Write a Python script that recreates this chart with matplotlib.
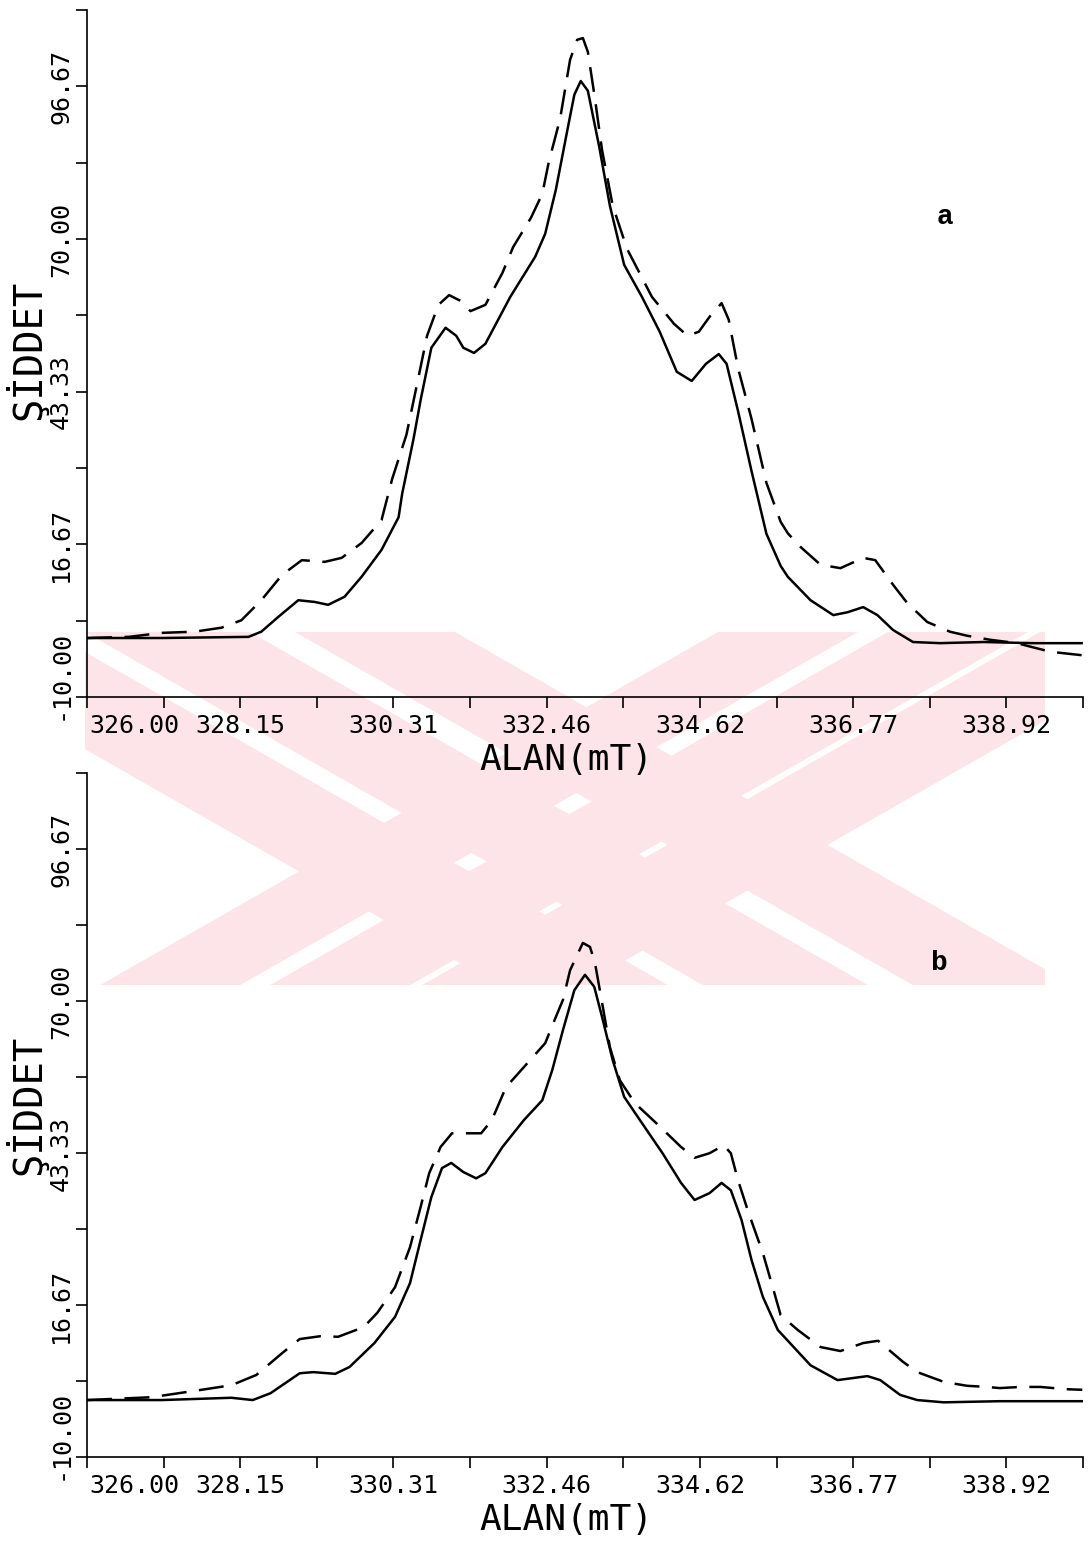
import matplotlib
matplotlib.use('Agg')
import matplotlib.pyplot as plt
from matplotlib.patches import Polygon, Rectangle

# field axis (mT) and intensity
xa_solid = [326.00, 327.05, 328.27, 328.45, 328.69, 328.97, 329.20, 329.39, 329.62, 329.86,
            330.14, 330.38, 330.43, 330.59, 330.69, 330.84, 331.04, 331.19, 331.29, 331.44,
            331.60, 331.95, 332.30, 332.44, 332.59, 332.75, 332.85, 332.94, 333.04, 333.20,
            333.35, 333.55, 333.80, 334.05, 334.29, 334.50, 334.70, 334.88, 334.99, 335.15,
            335.34, 335.55, 335.75, 335.85, 336.17, 336.49, 336.69, 336.91, 337.11, 337.33,
            337.61, 337.99, 338.60, 339.30, 339.98]
ya_solid = [0.3, 0.3, 0.5, 1.4, 4.0, 6.9, 6.6, 6.1, 7.5, 11.0,
            15.7, 21.4, 25.5, 35.1, 41.9, 51.0, 54.5, 53.1, 51.0, 50.1,
            51.7, 59.9, 66.9, 70.9, 78.6, 88.9, 95.2, 97.6, 95.9, 86.1,
            75.8, 65.5, 59.9, 53.8, 46.8, 45.2, 48.2, 49.9, 48.2, 40.0,
            29.5, 18.5, 12.9, 11.0, 6.9, 4.3, 4.8, 5.7, 4.3, 1.7,
            -0.4, -0.6, -0.4, -0.6, -0.6]

xa_dash = [326.00, 326.59, 327.05, 327.51, 327.89, 328.17, 328.45, 328.74, 329.02, 329.34,
           329.58, 329.86, 330.14, 330.29, 330.49, 330.64, 330.78, 330.94, 331.09, 331.25,
           331.39, 331.60, 331.84, 331.99, 332.24, 332.40, 332.49, 332.65, 332.79, 332.89,
           332.97, 333.04, 333.14, 333.24, 333.39, 333.59, 333.94, 334.25, 334.44, 334.60,
           334.75, 334.92, 335.02, 335.15, 335.34, 335.55, 335.75, 335.85, 336.03, 336.31,
           336.59, 336.91, 337.08, 337.33, 337.53, 337.81, 338.13, 338.37, 338.69, 339.07,
           339.54, 339.98]
ya_dash = [0.3, 0.5, 1.2, 1.4, 2.1, 3.4, 6.9, 11.3, 13.9, 13.6,
           14.3, 16.9, 20.9, 28.1, 35.8, 44.7, 53.1, 58.5, 60.2, 59.2,
           57.4, 58.5, 64.1, 68.6, 73.7, 77.9, 83.4, 91.0, 101.3, 104.8,
           105.1, 102.7, 94.5, 85.5, 75.8, 68.3, 59.9, 55.2, 53.1, 53.8,
           56.4, 58.8, 55.9, 47.5, 38.6, 27.4, 20.6, 18.6, 16.2, 13.1,
           12.5, 14.3, 13.9, 9.6, 6.4, 3.1, 1.4, 0.7, 0.0, -0.6,
           -2.1, -2.7]

xb_solid = [326.00, 327.05, 328.03, 328.33, 328.58, 328.99, 329.18, 329.49, 329.69, 330.04,
            330.33, 330.54, 330.69, 330.84, 330.99, 331.12, 331.29, 331.47, 331.60, 331.84,
            332.14, 332.40, 332.54, 332.69, 332.85, 333.00, 333.13, 333.24, 333.39, 333.55,
            333.80, 334.09, 334.35, 334.54, 334.75, 334.92, 335.05, 335.20, 335.34, 335.50,
            335.71, 336.17, 336.55, 336.97, 337.15, 337.43, 337.67, 338.04, 338.83, 340.00]
yb_solid = [0.0, 0.0, 0.4, 0.0, 1.2, 4.7, 4.9, 4.6, 5.8, 10.0,
            14.6, 20.5, 28.1, 35.6, 40.7, 41.6, 40.0, 38.9, 39.8, 44.4,
            49.1, 52.6, 57.9, 64.9, 71.9, 74.6, 72.5, 67.2, 59.6, 53.2,
            48.6, 43.3, 38.1, 35.1, 36.3, 38.1, 36.8, 31.6, 24.6, 18.1,
            12.3, 6.1, 3.5, 4.2, 3.5, 0.9, 0.0, -0.4, -0.2, -0.2]

xb_dash = [326.00, 326.91, 327.61, 328.03, 328.38, 328.74, 328.99, 329.28, 329.53, 329.89,
           330.08, 330.33, 330.54, 330.69, 330.81, 330.97, 331.13, 331.29, 331.54, 331.69,
           331.89, 332.14, 332.44, 332.59, 332.69, 332.79, 332.97, 333.07, 333.14, 333.24,
           333.35, 333.49, 333.70, 334.00, 334.35, 334.54, 334.75, 334.95, 335.05, 335.15,
           335.30, 335.50, 335.65, 335.75, 335.99, 336.31, 336.59, 336.91, 337.12, 337.47,
           337.67, 338.04, 338.37, 338.65, 338.83, 339.12, 339.40, 339.77, 339.99]
yb_dash = [0.0, 0.5, 1.8, 2.6, 4.4, 8.2, 10.7, 11.2, 11.1, 12.8,
           15.3, 19.8, 26.8, 33.9, 39.8, 44.4, 46.8, 46.8, 46.8, 49.1,
           54.9, 58.4, 62.6, 67.2, 70.2, 75.4, 80.2, 79.5, 76.7, 69.7,
           61.9, 56.1, 52.1, 48.6, 44.4, 42.5, 43.3, 44.7, 43.3, 38.6,
           32.8, 25.8, 19.3, 14.9, 12.3, 9.3, 8.6, 10.0, 10.4, 6.7,
           4.9, 3.2, 2.5, 2.3, 2.1, 2.3, 2.3, 1.9, 1.8]

x_ticks = [326 + k * 14 / 13 for k in range(14)]
x_labels = ['326.00', '328.15', '330.31', '332.46', '334.62', '336.77', '338.92']
y_ticks = [-10 + k * 120 / 9 for k in range(10)]
y_labels = ['-10.00', '16.67', '43.33', '70.00', '96.67']

panels = [
    ('a', xa_solid, ya_solid, xa_dash, ya_dash, [0.0798, 0.5483, 0.9138, 0.4452], 0.505, (0.861, 0.699)),
    ('b', xb_solid, yb_solid, xb_dash, yb_dash, [0.0798, 0.0557, 0.9138, 0.4433], 0.515, (0.856, 0.722)),
]

mono = 'DejaVu Sans Mono'
W, H = 1090, 1543
fig = plt.figure(figsize=(10.9, 15.43), dpi=100)

# faint pink watermark of the scanned page (diagonal bands), in pixel units
wm_top, wm_bot, wm_left, wm_right = 632, 985, 85, 1045
slope = 1.75
back_bands = [(-120, 50), (85, 250), (295, 455)]     # "\" bands, x range at top edge
fwd_bands = [(718, 858), (888, 1028), (1040, 1200)]  # "/" bands, x range at top edge
clip = Rectangle((wm_left / W, 1 - wm_bot / H), (wm_right - wm_left) / W,
                 (wm_bot - wm_top) / H, transform=fig.transFigure, visible=False)
fig.add_artist(clip)
dy = wm_bot - wm_top
for a, b in back_bands + fwd_bands:
    sh = slope * dy if (a, b) in back_bands else -slope * dy
    pts = [(a, wm_top), (b, wm_top), (b + sh, wm_bot), (a + sh, wm_bot)]
    poly = Polygon([(px / W, 1 - py / H) for px, py in pts], closed=True,
                   transform=fig.transFigure, facecolor='#fde4e9', edgecolor='none', zorder=-5)
    fig.add_artist(poly)
    poly.set_clip_path(clip)

for tag, xs, ys, xd, yd, rect, ylab_y, tag_pos in panels:
    ax = fig.add_axes(rect)
    ax.patch.set_visible(False)
    ax.plot(xs, ys, color='black', lw=1.8, solid_joinstyle='round')
    ax.plot(xd, yd, color='black', lw=1.8, linestyle=(0, (10, 5)), dash_joinstyle='round')
    ax.set_xlim(326, 340)
    ax.set_ylim(-10, 110)
    for side in ['top', 'right']:
        ax.spines[side].set_visible(False)
    for side in ['left', 'bottom']:
        ax.spines[side].set_linewidth(1.2)
    ax.set_xticks(x_ticks)
    ax.set_yticks(y_ticks)
    ax.set_xticklabels([])
    ax.set_yticklabels([])
    ax.tick_params(direction='out', length=8, width=1.2)

    # tick labels, drawn by hand to get the plotter-like placement
    xt = ax.get_xaxis_transform()
    for i, lab in enumerate(x_labels):
        xv = x_ticks[2 * i]
        ax.text(xv + (0.03 if i == 0 else 0), -0.042, lab, transform=xt, fontsize=18,
                family=mono, ha='left' if i == 0 else 'center', va='center')
    yt = ax.get_yaxis_transform()
    for i, lab in enumerate(y_labels):
        yv = y_ticks[2 * i]
        if i == 0:
            ax.text(-0.026, yv - 4.0, lab, transform=yt, fontsize=18, family=mono,
                    rotation=90, ha='center', va='bottom')
        else:
            ax.text(-0.026, yv, lab, transform=yt, fontsize=18, family=mono,
                    rotation=90, ha='center', va='center')

    ax.text(0.481, -0.092, 'ALAN(mT)', transform=ax.transAxes, fontsize=26,
            family=mono, ha='center', va='center')
    ax.text(-0.061, ylab_y, 'ŞİDDET', transform=ax.transAxes, fontsize=28,
            family=mono, rotation=90, ha='center', va='center')
    ax.text(tag_pos[0], tag_pos[1], tag, transform=ax.transAxes, fontsize=20,
            family='Liberation Mono', fontweight='bold', ha='center', va='center')

fig.savefig('out.png', dpi=100)
